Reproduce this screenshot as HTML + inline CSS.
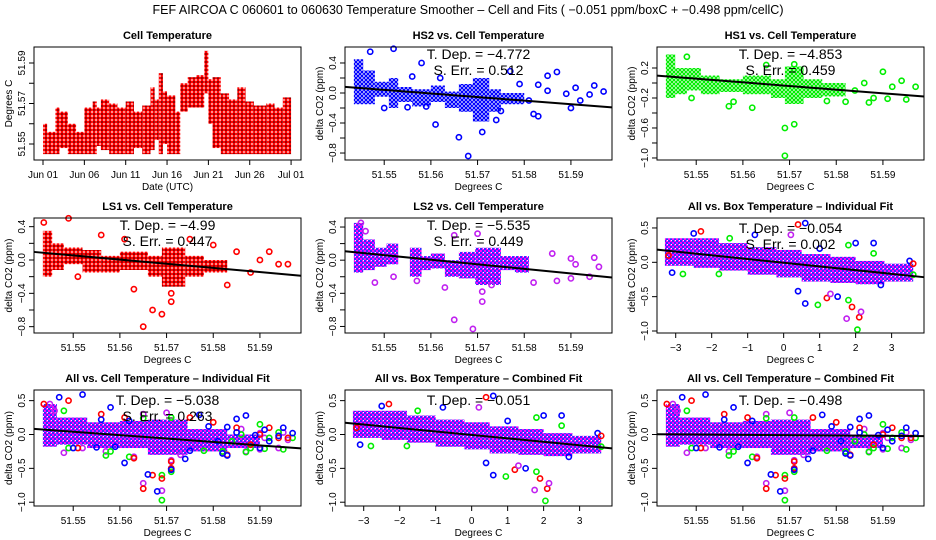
<!DOCTYPE html>
<html><head><meta charset="utf-8"><title>FEF AIRCOA C Temperature Smoother</title>
<style>
html,body{margin:0;padding:0;background:#fff;}
svg{display:block;font-family:"Liberation Sans",sans-serif;}
</style></head>
<body>
<svg id="chart" width="936" height="540" viewBox="0 0 936 540" xmlns="http://www.w3.org/2000/svg">
<defs>
<pattern id="pat-red" width="4" height="4" patternUnits="userSpaceOnUse"><rect width="4" height="4" fill="#fff"/><circle cx="2" cy="2" r="1.5" fill="#500000" stroke="#ff0000" stroke-width="1.3"/></pattern>
<pattern id="pat-blue" width="4" height="4" patternUnits="userSpaceOnUse"><rect width="4" height="4" fill="#fff"/><circle cx="2" cy="2" r="1.5" fill="none" stroke="#0000ff" stroke-width="1.3"/></pattern>
<pattern id="pat-green" width="4" height="4" patternUnits="userSpaceOnUse"><rect width="4" height="4" fill="#fff"/><circle cx="2" cy="2" r="1.5" fill="none" stroke="#00ee00" stroke-width="1.3"/></pattern>
<pattern id="pat-purple" width="4" height="4" patternUnits="userSpaceOnUse"><rect width="4" height="4" fill="#ff00ff"/><rect x="0" y="0" width="2" height="2" fill="#3030ff"/><rect x="2" y="2" width="2" height="2" fill="#3030ff"/><rect x="3" y="0" width="1" height="1" fill="#fff"/></pattern>
</defs>
<text x="468" y="14" text-anchor="middle" font-size="12.5">FEF   AIRCOA C   060601 to 060630   Temperature Smoother – Cell and Fits ( −0.051  ppm/boxC +  −0.498  ppm/cellC)</text>
</svg>
<script>
// ---------- DATA ----------
const dateTicks = [0,5,10,15,20,25,30];
const dateTickLabels = ["Jun 01","Jun 06","Jun 11","Jun 16","Jun 21","Jun 26","Jul 01"];
// cell temperature bands: [dayStart, dayEnd, low, high]
const cellTempBands = [[0,0.5,51.545,51.56],[0.5,1.5,51.545,51.556],[1.5,2,51.545,51.568],[2,3,51.548,51.566],[3,4,51.545,51.56],[4,5,51.545,51.556],[5,6,51.545,51.568],[6,6.5,51.545,51.571],[6.5,7,51.549,51.568],[7,8,51.547,51.572],[8,9,51.545,51.57],[9,10,51.545,51.568],[10,11,51.545,51.571],[11,12,51.548,51.566],[12,13,51.545,51.569],[13,13.5,51.547,51.578],[13.5,14,51.552,51.572],[14,14.5,51.545,51.585],[14.5,15,51.55,51.576],[15,16,51.545,51.574],[16,16.6,51.545,51.566],[16.6,17.5,51.566,51.58],[17.5,18.5,51.568,51.583],[18.5,19.5,51.568,51.584],[19.5,20,51.575,51.596],[20,20.5,51.56,51.582],[20.5,21.5,51.548,51.583],[21.5,22.5,51.545,51.575],[22.5,23.5,51.545,51.572],[23.5,24.5,51.545,51.578],[24.5,25.5,51.545,51.571],[25.5,27,51.545,51.569],[27,28,51.545,51.57],[28,29,51.545,51.568],[29,30,51.545,51.573]];
const cellTempTicks = [51.55,51.56,51.57,51.58,51.59];
const cellTempTickLabels = ["51.55","","51.57","","51.59"];

const cellXTicks = [51.55,51.56,51.57,51.58,51.59];
const cellXTickLabels = ["51.55","51.56","51.57","51.58","51.59"];
const boxXTicks = [-3,-2,-1,0,1,2,3];
const boxXTickLabels = ["−3","−2","−1","0","1","2","3"];
const yTicksA = [0.4,0.2,0,-0.2,-0.4,-0.6,-0.8];
const yTickLabelsA = ["0.4","","0.0","","−0.4","","−0.8"];
const yTicksB = [0.2,0,-0.2,-0.4,-0.6,-0.8,-1.0];
const yTickLabelsB = ["0.2","","−0.2","","−0.6","","−1.0"];
const yTicksC = [0.5,0,-0.5,-1.0];
const yTickLabelsC = ["0.5","0.0","−0.5","−1.0"];

// band regions [x0,x1,ylo,yhi]; outlier points [x,y]
const hs2Bands = [[51.5435,51.5455,-0.15,0.45],[51.5455,51.548,-0.15,0.3],[51.548,51.551,-0.05,0.15],[51.551,51.553,-0.2,0.2],[51.553,51.556,-0.12,0.08],[51.556,51.56,-0.18,0.05],[51.56,51.563,-0.12,0.1],[51.563,51.566,-0.2,0.02],[51.566,51.569,-0.25,0.12],[51.569,51.5725,-0.38,0.2],[51.5725,51.575,-0.25,0.05],[51.575,51.58,-0.15,0.0]];
const hs2Points = [[51.547,0.55],[51.552,0.59],[51.558,0.4],[51.561,-0.42],[51.566,-0.59],[51.568,-0.84],[51.571,-0.52],[51.577,0.29],[51.579,0.12],[51.583,0.11],[51.585,0.23],[51.587,0.28],[51.589,-0.01],[51.591,0.07],[51.592,-0.1],[51.594,-0.02],[51.595,0.1],[51.597,0.02],[51.590,-0.2],[51.582,-0.28],[51.583,-0.31],[51.575,-0.24],[51.574,-0.36],[51.585,0.03],[51.581,-0.1],[51.55,-0.2],[51.555,-0.19],[51.556,0.22],[51.559,-0.18],[51.562,0.2]];
const hs1Bands = [[51.5435,51.5455,-0.2,0.38],[51.5455,51.548,-0.15,0.2],[51.548,51.551,-0.1,0.2],[51.551,51.555,-0.15,0.1],[51.555,51.56,-0.12,0.05],[51.56,51.566,-0.15,0.1],[51.566,51.569,-0.2,0.05],[51.569,51.573,-0.28,0.22],[51.573,51.577,-0.2,0.05],[51.577,51.582,-0.18,0.0]];
const hs1Points = [[51.548,0.35],[51.549,-0.2],[51.557,-0.31],[51.558,-0.25],[51.562,-0.33],[51.569,-0.6],[51.571,-0.55],[51.569,-0.97],[51.586,0.0],[51.59,0.15],[51.592,-0.05],[51.594,0.03],[51.595,-0.22],[51.597,-0.05],[51.591,-0.21],[51.588,-0.2],[51.587,-0.26],[51.584,-0.1],[51.582,-0.25],[51.578,-0.24],[51.565,0.24],[51.571,0.25]];
const ls1Bands = [[51.5435,51.5455,-0.2,0.35],[51.5455,51.548,-0.12,0.2],[51.548,51.552,-0.05,0.15],[51.552,51.556,-0.15,0.12],[51.556,51.56,-0.15,0.05],[51.56,51.566,-0.12,0.1],[51.566,51.569,-0.2,0.05],[51.569,51.574,-0.32,0.15],[51.574,51.578,-0.2,0.05],[51.578,51.583,-0.15,0.0]];
const ls1Points = [[51.5437,0.45],[51.549,0.5],[51.551,-0.2],[51.563,-0.35],[51.565,-0.8],[51.567,-0.6],[51.569,-0.65],[51.571,-0.4],[51.571,-0.5],[51.585,0.1],[51.59,0.0],[51.592,0.1],[51.594,-0.05],[51.596,-0.05],[51.588,-0.15],[51.583,-0.3],[51.58,0.18],[51.575,0.25],[51.556,0.3],[51.561,0.25]];
const ls2Bands = [[51.5435,51.5455,-0.15,0.45],[51.5455,51.548,-0.12,0.25],[51.548,51.5505,-0.08,0.15],[51.5505,51.553,-0.05,0.2],[51.5555,51.558,-0.2,0.15],[51.558,51.56,-0.12,0.05],[51.56,51.563,-0.1,0.08],[51.563,51.566,-0.2,0.0],[51.566,51.5695,-0.22,0.1],[51.5695,51.575,-0.3,0.15],[51.575,51.578,-0.12,0.05],[51.578,51.581,-0.15,0.05]];
const ls2Points = [[51.545,0.45],[51.546,0.35],[51.548,-0.27],[51.552,-0.2],[51.557,-0.25],[51.563,-0.33],[51.565,-0.72],[51.569,-0.83],[51.571,-0.38],[51.571,-0.5],[51.573,-0.3],[51.582,-0.27],[51.586,0.08],[51.587,-0.25],[51.590,-0.22],[51.590,0.02],[51.591,-0.05],[51.594,-0.2],[51.595,0.03],[51.596,-0.08],[51.57,0.32],[51.565,0.3]];
const allCellBands = [[51.5435,51.5465,-0.18,0.45],[51.5465,51.553,-0.15,0.25],[51.553,51.56,-0.2,0.18],[51.56,51.566,-0.2,0.2],[51.566,51.5745,-0.3,0.22],[51.5745,51.583,-0.25,0.08],[51.583,51.59,-0.2,0.0]];
const boxBands = [[-3.3,-2.5,-0.05,0.35],[-2.5,-1.8,-0.08,0.35],[-1.8,-1,-0.12,0.28],[-1,-0.2,-0.18,0.22],[-0.2,0.5,-0.22,0.18],[0.5,1.3,-0.28,0.12],[1.3,2,-0.3,0.08],[2,2.8,-0.32,0.02],[2.8,3.6,-0.28,-0.02]];
const boxPointsX = [-3.1,-2.8,-2.3,-2.5,-1.8,-0.8,0.4,0.6,0.4,0.6,0.95,1.2,1.3,1.9,1.75,2.1,2.15,2.05,1.8,1.5,2.0,2.5,3.5,3.6,2.7,-3.2,0.2,1.8,3.6,2.5,1.0,-1.5];
const boxPointsY = [-0.15,-0.17,0.45,0.42,-0.17,0.4,0.55,0.57,-0.42,-0.6,-0.62,-0.52,-0.46,-0.65,-0.82,-0.8,-0.72,-0.98,-0.55,-0.5,0.28,0.28,0.02,-0.02,-0.33,0.1,0.4,0.25,-0.18,0.13,0.2,0.35];
const boxPointsColor = ["b","g","r","b","g","b","r","b","b","b","g","r","p","r","p","r","p","g","g","b","b","b","b","r","b","r","p","g","g","g","b","g"];

// fit results
const fitSlopes = [-4.772,-4.853,-4.99,-5.535,-0.054,-5.038,-0.051,-0.498];
const fitIntercepts = [-0.054,-0.04,-0.045,-0.05,-0.006,-0.06,-0.006,-0.01];
const fitCenters = [51.57,51.57,51.57,51.57,0,51.57,0,51.57];
const sErrLabels = ["0.512","0.459","0.447","0.449","0.002","0.263",null,null];
const tDepLabels = ["−4.772","−4.853","−4.99","−5.535","−0.054","−5.038","−0.051","−0.498"];

// ---------- DRAWING ----------
const svg = document.getElementById('chart');
const NS = 'http://www.w3.org/2000/svg';
function mk(tag, attrs, parent){const e=document.createElementNS(NS,tag);for(const k in attrs)e.setAttribute(k,attrs[k]);(parent||svg).appendChild(e);return e;}
const colorMap = {r:'#ff0000',g:'#00ee00',b:'#0000ff',p:'#c020f0'};
const patMap = {r:'url(#pat-red)',g:'url(#pat-green)',b:'url(#pat-blue)',p:'url(#pat-purple)'};

function makePanel(name, L, T, R, B, xd, yd){
  const g = mk('g',{});
  
  
  const sx = v => L + (v - xd[0])/(xd[1]-xd[0])*(R-L);
  const sy = v => B - (v - yd[0])/(yd[1]-yd[0])*(B-T);
  return {g,L,T,R,B,sx,sy};
}
function frame(p, title, xTicks, xLabels, yTicks, yLabels, xTitle, yTitle){
  const {g,L,T,R,B,sx,sy} = p;
  const t = mk('text',{x:(L+R)/2,y:T-8,'text-anchor':'middle','font-size':'11','font-weight':'bold'},g);
  t.textContent = title;
  
  
  const box = mk('rect',{x:L,y:T,width:R-L,height:B-T,fill:'none',stroke:'#000','stroke-width':1},g);
  
  
  const xa = mk('g',{},g);
  
  
  xTicks.forEach((v,i)=>{
    const x = sx(v);
    mk('line',{x1:x,x2:x,y1:B,y2:B+5,stroke:'#000'},xa);
    const lt = mk('text',{x:x,y:B+18,'text-anchor':'middle','font-size':'10'},xa);
    lt.textContent = xLabels[i];
    
    
  });
  const xt = mk('text',{x:(L+R)/2,y:B+30,'text-anchor':'middle','font-size':'10'},g);
  xt.textContent = xTitle;
  
  
  const ya = mk('g',{},g);
  
  
  yTicks.forEach((v,i)=>{
    const y = sy(v);
    mk('line',{x1:L-5,x2:L,y1:y,y2:y,stroke:'#000'},ya);
    if(yLabels[i]){
      const lt = mk('text',{x:0,y:0,'text-anchor':'middle','font-size':'10',transform:`translate(${L-9},${y}) rotate(-90)`},ya);
      lt.textContent = yLabels[i];
      
      
    }
  });
  const yt = mk('text',{x:0,y:0,'text-anchor':'middle','font-size':'10',transform:`translate(${L-22},${(T+B)/2}) rotate(-90)`},g);
  yt.textContent = yTitle;
  
  
}
function bands(p, arr, fill){
  arr.forEach(b=>{
    const x0=p.sx(b[0]), x1=p.sx(b[1]), y0=p.sy(b[3]), y1=p.sy(b[2]);
    const r = mk('rect',{x:x0,y:y0,width:Math.max(1,x1-x0),height:Math.max(1,y1-y0),fill:fill},p.g);
    
    
  });
}
function points(p, xs, ys, colors){
  xs.forEach((x,i)=>{
    const c = mk('circle',{cx:p.sx(x),cy:p.sy(ys[i]),r:2.6,fill:'none',stroke:colors[i],'stroke-width':1.6},p.g);
    
    
  });
}
function pairPoints(p, arr, col){
  points(p, arr.map(a=>a[0]), arr.map(a=>a[1]), arr.map(()=>col));
}
function fitLine(p, k, xd){
  const f = v => fitIntercepts[k] + fitSlopes[k]*(v - fitCenters[k]);
  const l = mk('line',{x1:p.sx(xd[0]),y1:p.sy(f(xd[0])),x2:p.sx(xd[1]),y2:p.sy(f(xd[1])),stroke:'#000','stroke-width':2},p.g);
  
  
}
function stats(p, k, y1){
  const cx = (p.L+p.R)/2;
  const t = mk('text',{x:cx,y:y1,'text-anchor':'middle','font-size':'14'},p.g);
  t.textContent = 'T. Dep. =  ' + tDepLabels[k];
  
  
  if(sErrLabels[k]){
    const s = mk('text',{x:cx,y:y1+16,'text-anchor':'middle','font-size':'14'},p.g);
    s.textContent = 'S. Err. =  ' + sErrLabels[k];
    
    
  }
}

const cellXD = [51.5416, 51.5988];
const boxXD = [-3.52, 3.9];
const cols = [[34,301],[345,612],[657,924]];
const rows = [[47,160],[218,333],[390,506]];

// Panel 1: cell temperature time series
{
  const p = makePanel('cell-temperature-panel', cols[0][0], rows[0][0], cols[0][1], rows[0][1], [-1.09,31.2], [51.5421,51.5979]);
  cellTempBands.forEach(b=>{
    const r = mk('rect',{x:p.sx(b[0]),y:p.sy(b[3]),width:p.sx(b[1])-p.sx(b[0]),height:p.sy(b[2])-p.sy(b[3]),fill:'url(#pat-red)'},p.g);
    
    
  });
  frame(p,'Cell Temperature',dateTicks,dateTickLabels,cellTempTicks,cellTempTickLabels,'Date (UTC)','Degrees C');
}
// Individual series panels
const indiv = [
  ['hs2-panel','HS2 vs. Cell Temperature',1,0,hs2Bands,hs2Points,'b',[-0.893,0.613],yTicksA,yTickLabelsA,0],
  ['hs1-panel','HS1 vs. Cell Temperature',2,0,hs1Bands,hs1Points,'g',[-1.027,0.48],yTicksB,yTickLabelsB,1],
  ['ls1-panel','LS1 vs. Cell Temperature',0,1,ls1Bands,ls1Points,'r',[-0.876,0.504],yTicksA,yTickLabelsA,2],
  ['ls2-panel','LS2 vs. Cell Temperature',1,1,ls2Bands,ls2Points,'p',[-0.879,0.509],yTicksA,yTickLabelsA,3]
];
indiv.forEach(d=>{
  const [c,r] = [d[2],d[3]];
  const p = makePanel(d[0], cols[c][0], rows[r][0], cols[c][1], rows[r][1], cellXD, d[7]);
  bands(p, d[4], patMap[d[6]]);
  pairPoints(p, d[5], colorMap[d[6]]);
  fitLine(p, d[10], cellXD);
  stats(p, d[10], rows[r][0]+12);
  frame(p,d[1],cellXTicks,cellXTickLabels,d[8],d[9],'Degrees C','delta CO2 (ppm)');
});
function allCell(p){
  bands(p, allCellBands, patMap.p);
  pairPoints(p, ls2Points, colorMap.p);
  pairPoints(p, hs1Points, colorMap.g);
  pairPoints(p, ls1Points, colorMap.r);
  pairPoints(p, hs2Points, colorMap.b);
}
function allBox(p){
  bands(p, boxBands, patMap.p);
  points(p, boxPointsX, boxPointsY, boxPointsColor.map(c=>colorMap[c]));
}
{
  const p = makePanel('all-box-individual-panel', cols[2][0], rows[1][0], cols[2][1], rows[1][1], boxXD, [-1.029,0.645]);
  allBox(p); fitLine(p,4,boxXD); stats(p,4,rows[1][0]+15);
  frame(p,'All vs. Box Temperature – Individual Fit',boxXTicks,boxXTickLabels,yTicksC,yTickLabelsC,'Degrees C','delta CO2 (ppm)');
}
{
  const p = makePanel('all-cell-individual-panel', cols[0][0], rows[2][0], cols[0][1], rows[2][1], cellXD, [-1.056,0.657]);
  allCell(p); fitLine(p,5,cellXD); stats(p,5,rows[2][0]+15);
  frame(p,'All vs. Cell Temperature – Individual Fit',cellXTicks,cellXTickLabels,yTicksC,yTickLabelsC,'Degrees C','delta CO2 (ppm)');
}
{
  const p = makePanel('all-box-combined-panel', cols[1][0], rows[2][0], cols[1][1], rows[2][1], boxXD, [-1.056,0.657]);
  allBox(p); fitLine(p,6,boxXD); stats(p,6,rows[2][0]+15);
  frame(p,'All vs. Box Temperature – Combined Fit',boxXTicks,boxXTickLabels,yTicksC,yTickLabelsC,'Degrees C','delta CO2 (ppm)');
}
{
  const p = makePanel('all-cell-combined-panel', cols[2][0], rows[2][0], cols[2][1], rows[2][1], cellXD, [-1.056,0.657]);
  allCell(p); fitLine(p,7,cellXD); stats(p,7,rows[2][0]+15);
  frame(p,'All vs. Cell Temperature – Combined Fit',cellXTicks,cellXTickLabels,yTicksC,yTickLabelsC,'Degrees C','delta CO2 (ppm)');
}
</script>
</body></html>
